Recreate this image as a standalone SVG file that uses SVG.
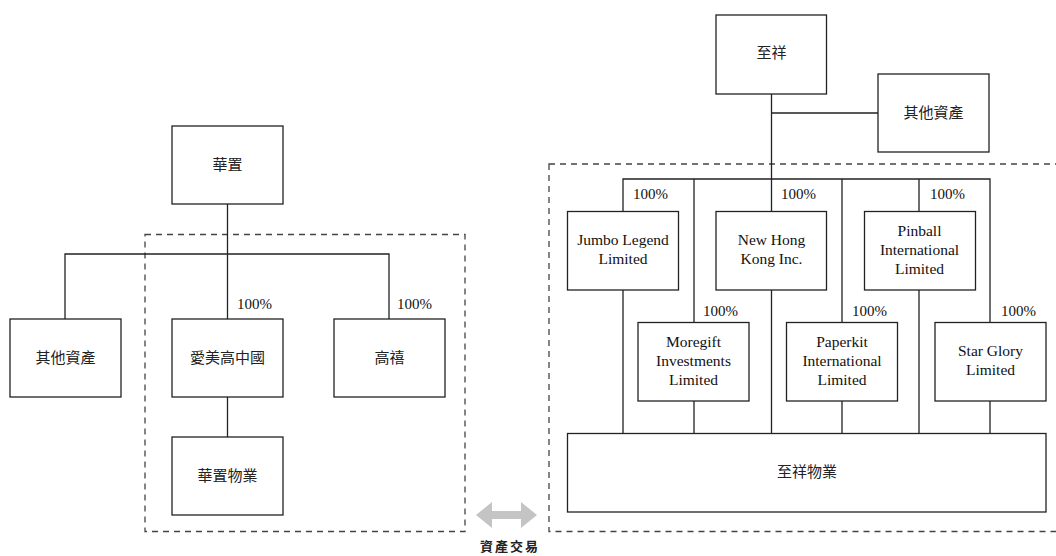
<svg xmlns="http://www.w3.org/2000/svg" width="1056" height="556" viewBox="0 0 1056 556">
<style>
.box{fill:#fff;stroke:#222;stroke-width:1.3}
.ln{stroke:#222;stroke-width:1.3;fill:none}
.dash{fill:none;stroke:#444;stroke-width:1.3;stroke-dasharray:6 5}
.cjk{font-family:"Liberation Serif","Noto Sans CJK TC",serif;font-size:15px;fill:#222;text-anchor:middle}
.en{font-family:"Liberation Serif","Times New Roman",serif;font-size:15.5px;fill:#111;text-anchor:middle}
.pct{font-family:"Liberation Serif","Times New Roman",serif;font-size:15px;fill:#111}
.lbl{font-family:"Noto Sans CJK TC",sans-serif;font-size:13px;font-weight:bold;fill:#222;text-anchor:middle;letter-spacing:2px}
</style>
<rect width="1056" height="556" fill="#fff"/>
<g id="groups">
<rect class="dash" x="145" y="234.5" width="320" height="297"/>
<rect class="dash" x="549" y="164" width="510" height="367.5"/>
</g>
<g id="connectors">
<path class="ln" d="M227.5 204V254M65 319V254H389V319M227.5 254V319M227.5 397V437"/>
<path class="ln" d="M771.5 94V179M771.5 113H878M623 211V179H990V322M694 179V322M842 179V322M771.5 179V211M919 179V211"/>
<path class="ln" d="M623 290V433M771.5 290V433M919 290V433M694 401V433M842 401V433M990 401V433"/>
</g>
<g id="n_hk"><rect class="box" x="172" y="126" width="111" height="78"/><text class="cjk" x="227.5" y="170">華置</text></g>
<g id="n_other_l"><rect class="box" x="10" y="319" width="111" height="78"/><text class="cjk" x="65.5" y="363">其他資產</text></g>
<g id="n_aimeigao"><rect class="box" x="172" y="319" width="111" height="78"/><text class="cjk" x="227.5" y="363">愛美高中國</text></g>
<g id="n_gaoxi"><rect class="box" x="334" y="319" width="111" height="78"/><text class="cjk" x="389.5" y="363">高禧</text></g>
<g id="n_hkprop"><rect class="box" x="172" y="437" width="111" height="78"/><text class="cjk" x="227.5" y="481">華置物業</text></g>
<text class="pct" x="237" y="309">100%</text>
<text class="pct" x="397" y="309">100%</text>
<g id="n_zhixiang"><rect class="box" x="716" y="15" width="110.5" height="79"/><text class="cjk" x="771.5" y="58">至祥</text></g>
<g id="n_other_r"><rect class="box" x="878" y="74" width="111" height="78"/><text class="cjk" x="933.5" y="118">其他資產</text></g>
<g id="n_jumbo"><rect class="box" x="567.5" y="211.5" width="111" height="78.5"/><text class="en" x="623" y="245">Jumbo Legend</text><text class="en" x="623" y="264">Limited</text></g>
<g id="n_newhk"><rect class="box" x="716" y="211.5" width="110.5" height="78.5"/><text class="en" x="771.5" y="245">New Hong</text><text class="en" x="771.5" y="264">Kong Inc.</text></g>
<g id="n_pinball"><rect class="box" x="864.5" y="211.5" width="111" height="78.5"/><text class="en" x="919.5" y="236">Pinball</text><text class="en" x="919.5" y="255">International</text><text class="en" x="919.5" y="274">Limited</text></g>
<g id="n_moregift"><rect class="box" x="638" y="322.5" width="111" height="78.5"/><text class="en" x="693.5" y="347">Moregift</text><text class="en" x="693.5" y="366">Investments</text><text class="en" x="693.5" y="385">Limited</text></g>
<g id="n_paperkit"><rect class="box" x="786.5" y="322.5" width="111" height="78.5"/><text class="en" x="842" y="347">Paperkit</text><text class="en" x="842" y="366">International</text><text class="en" x="842" y="385">Limited</text></g>
<g id="n_star"><rect class="box" x="935" y="322.5" width="111" height="78.5"/><text class="en" x="990.5" y="356">Star Glory</text><text class="en" x="990.5" y="375">Limited</text></g>
<g id="n_zxprop"><rect class="box" x="567.5" y="433.5" width="478.5" height="78.5"/><text class="cjk" x="807" y="477">至祥物業</text></g>
<text class="pct" x="633" y="199">100%</text>
<text class="pct" x="781" y="199">100%</text>
<text class="pct" x="930" y="199">100%</text>
<text class="pct" x="703" y="316">100%</text>
<text class="pct" x="852" y="316">100%</text>
<text class="pct" x="1001" y="316">100%</text>
<g id="exchange">
<polygon points="476,515 492,502 492,511 521,511 521,502 537,515 521,528 521,519 492,519 492,528" fill="#c4c4c4"/>
<text class="lbl" x="510" y="551">資產交易</text>
</g>
</svg>
